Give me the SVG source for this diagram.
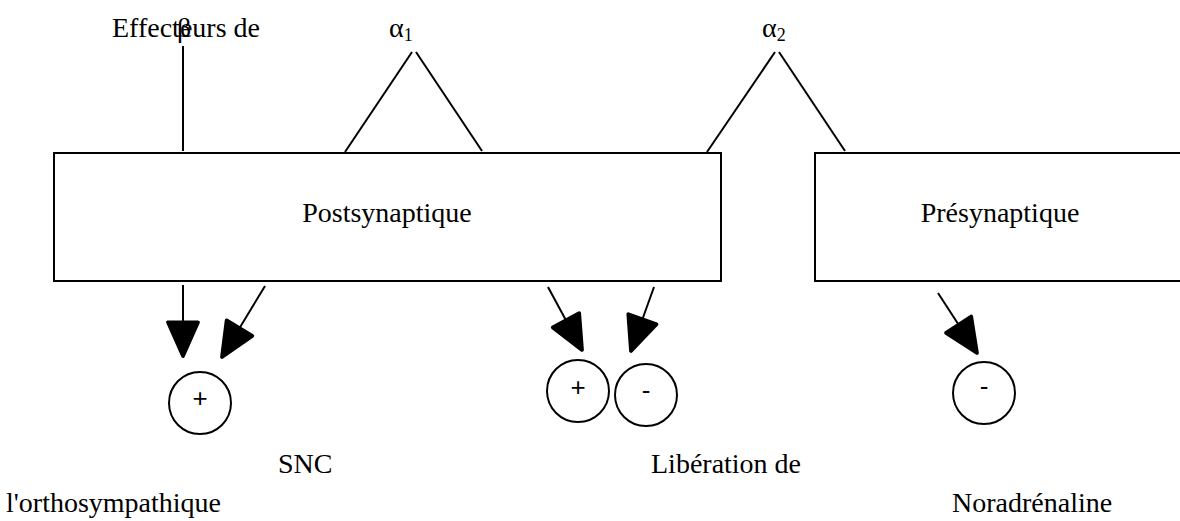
<svg xmlns="http://www.w3.org/2000/svg" width="1180" height="521" viewBox="0 0 1180 521">
<style>
.t{font-family:"Liberation Serif","Times New Roman",serif;font-size:28px;fill:#000}
.g{font-family:"Liberation Serif","Times New Roman",serif;font-size:28px;fill:#000}
.s{font-family:"Liberation Serif","Times New Roman",serif;font-size:18px;fill:#000}
.c{font-family:"Liberation Sans",Arial,sans-serif;font-size:26px;fill:#000}
.box{fill:#fff;stroke:#000;stroke-width:2}
.ln{stroke:#000;stroke-width:2;fill:none}
.cir{fill:#fff;stroke:#000;stroke-width:2}
</style>
<defs>
<marker id="ah" markerUnits="userSpaceOnUse" markerWidth="40" markerHeight="40" viewBox="-2 -16 32 32" refX="27" refY="0" orient="auto">
<path d="M0,-12 L27,0 L0,12 Z" fill="#000" stroke="#000" stroke-width="3" stroke-linejoin="round"/>
</marker>
</defs>
<rect width="1180" height="521" fill="#fff"/>
<g id="connectors">
<line class="ln" x1="183" y1="46" x2="183" y2="151"/>
<line class="ln" x1="345" y1="152" x2="412" y2="52"/>
<line class="ln" x1="416" y1="52" x2="482" y2="151"/>
<line class="ln" x1="707" y1="152" x2="775" y2="52"/>
<line class="ln" x1="779" y1="52" x2="845" y2="151"/>
<line class="ln" x1="183" y1="285" x2="183" y2="356" marker-end="url(#ah)"/>
<line class="ln" x1="265" y1="286" x2="222" y2="357" marker-end="url(#ah)"/>
<line class="ln" x1="548" y1="287" x2="582" y2="350" marker-end="url(#ah)"/>
<line class="ln" x1="654" y1="287" x2="631" y2="351" marker-end="url(#ah)"/>
<line class="ln" x1="938" y1="293" x2="977" y2="353" marker-end="url(#ah)"/>
</g>
<g id="post">
<rect class="box" x="54" y="153" width="667" height="128"/>
<text class="t" x="387" y="222" text-anchor="middle">Postsynaptique</text>
</g>
<g id="pre">
<rect class="box" x="815" y="153" width="380" height="128"/>
<text class="t" x="1000" y="222" text-anchor="middle">Présynaptique</text>
</g>
<g id="label-effecteurs">
<text class="t" x="112" y="37">Effecteurs de</text>
<text class="g" x="177" y="37">β</text>
</g>
<g id="label-alpha1">
<text class="g" x="389" y="37">α<tspan class="s" dy="4">1</tspan></text>
</g>
<g id="label-alpha2">
<text class="g" x="762" y="37">α<tspan class="s" dy="4">2</tspan></text>
</g>
<g id="circle-1">
<circle class="cir" cx="200" cy="403" r="31"/>
<text class="c" x="200" y="407" text-anchor="middle">+</text>
</g>
<g id="circle-2">
<circle class="cir" cx="578" cy="391" r="31"/>
<text class="c" x="578" y="396" text-anchor="middle">+</text>
</g>
<g id="circle-3">
<circle class="cir" cx="646" cy="395" r="31"/>
<text class="c" x="646" y="399" text-anchor="middle">-</text>
</g>
<g id="circle-4">
<circle class="cir" cx="984" cy="393" r="31"/>
<text class="c" x="984" y="395" text-anchor="middle">-</text>
</g>
<g id="bottom-labels">
<text class="t" x="278" y="473">SNC</text>
<text class="t" x="651" y="473">Libération de</text>
<text class="t" x="6" y="512">l'orthosympathique</text>
<text class="t" x="952" y="512">Noradrénaline</text>
</g>
</svg>
